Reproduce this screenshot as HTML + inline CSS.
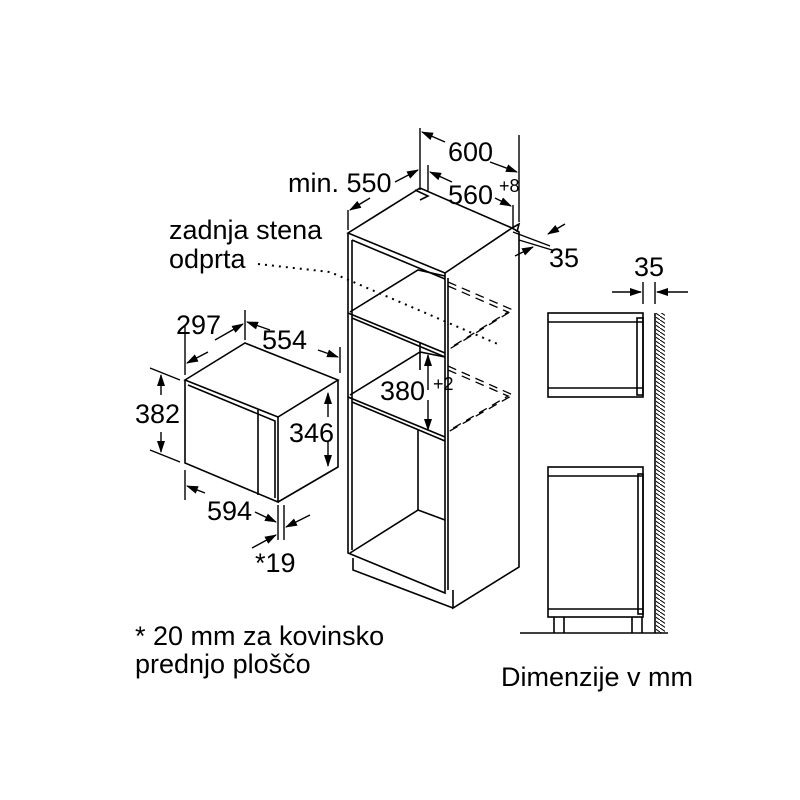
<!DOCTYPE html>
<html><head><style>body{margin:0;background:#fff}svg{display:block}text{font-family:"Liberation Sans",sans-serif;font-size:27px;fill:#000}</style></head>
<body>
<svg width="800" height="800" viewBox="0 0 800 800" xmlns="http://www.w3.org/2000/svg">
<defs>
<marker id="a" markerWidth="12" markerHeight="8" refX="11" refY="4" orient="auto" markerUnits="userSpaceOnUse"><path d="M0,0 L12,4 L0,8 z" fill="#000"/></marker>
<pattern id="h" width="6" height="4" patternUnits="userSpaceOnUse"><path d="M0,0 L6,4" stroke="#000" stroke-width="1"/></pattern>
</defs>
<g fill="none" stroke="#000" stroke-width="1.6">
<path d="M348,233 L420,188 L512,228 L445,273 Z"/>
<path d="M348,233 L348,553 L445,593 L445,273"/>
<path d="M352,240 L352,550 M448,278 L448,590"/>
<path d="M352,240 L445,279"/>
<path d="M512,228 L519,232 L519,567 L453,608 L453,590"/>
<path d="M353,558 L353,570 L453,608"/>
<path d="M348,313 L445,353 M352,318 L445,357"/>
<path d="M348,397 L445,437 M352,402 L445,441"/>
<path d="M350,312 L418,270 L445,276"/>
<path d="M420,343 L420,370 M350,395 L420,352 L445,357"/>
<path d="M418,430 L418,510 L350,553 M418,510 L445,520"/>
<path d="M415,190 L428,196 L420,200"/>
<path d="M512,228 L519,224 L517,232"/>
</g>
<g fill="none" stroke="#000" stroke-width="1.3" stroke-dasharray="9,6">
<path d="M448,282 L513,310 L448,350 M448,286 L508,312 L450,348"/>
<path d="M448,366 L513,395 L448,432 M448,370 L508,396 L450,430"/>
</g>
<path d="M258,264 L330,272 L500,345" fill="none" stroke="#000" stroke-width="2" stroke-dasharray="2,5"/>
<g fill="none" stroke="#000" stroke-width="1.4">
<path d="M420,128 L420,190 M519,135 L519,222 M428,165 L428,192 M513,205 L513,228"/>
<path d="M445,142 L422,132" marker-end="url(#a)"/><path d="M490,162 L517,172" marker-end="url(#a)"/>
<path d="M452,182 L430,172" marker-end="url(#a)"/><path d="M495,198 L511,206" marker-end="url(#a)"/>
<path d="M348,210 L348,230"/>
<path d="M395,182 L418,170" marker-end="url(#a)"/><path d="M370,198 L350,210" marker-end="url(#a)"/>
<path d="M513,232 L550,246 M519,240 L552,250"/>
<path d="M565,224 L548,234" marker-end="url(#a)"/><path d="M515,256 L533,247" marker-end="url(#a)"/>
<path d="M428,390 L428,355" marker-end="url(#a)"/><path d="M428,400 L428,430" marker-end="url(#a)"/>
</g>
<text x="448" y="161">600</text>
<text x="288" y="192">min. 550</text>
<text x="448" y="204">560</text><text x="499" y="192" style="font-size:18px">+8</text>
<text x="549" y="267">35</text>
<text x="380" y="400">380</text><text x="433" y="390" style="font-size:18px">+2</text>
<text x="169" y="239">zadnja stena</text>
<text x="169" y="268">odprta</text>
<g fill="none" stroke="#000" stroke-width="1.6">
<path d="M185,380 L245,343 L338,380 L278,417 Z"/>
<path d="M185,380 L185,463 L278,502 L278,417 M338,380 L338,467 L278,502"/>
<path d="M188,385 L275,421 L275,498"/>
<path d="M258,410 L258,495"/>
</g>
<g fill="none" stroke="#000" stroke-width="1.4">
<path d="M185,325 L185,375 M245,310 L245,340 M340,347 L340,373"/>
<path d="M215,340 L243,324" marker-end="url(#a)"/><path d="M208,352 L187,363" marker-end="url(#a)"/>
<path d="M270,330 L247,322" marker-end="url(#a)"/><path d="M318,350 L338,357" marker-end="url(#a)"/>
<path d="M150,368 L180,380 M150,450 L180,462"/>
<path d="M161,395 L161,375" marker-end="url(#a)"/><path d="M161,432 L161,452" marker-end="url(#a)"/>
<path d="M328,417 L328,393" marker-end="url(#a)"/><path d="M328,442 L328,466" marker-end="url(#a)"/>
<path d="M185,470 L185,500 M278,505 L278,540 M284,505 L284,540"/>
<path d="M205,493 L187,486" marker-end="url(#a)"/><path d="M255,512 L276,522" marker-end="url(#a)"/>
<path d="M310,515 L286,527" marker-end="url(#a)"/><path d="M252,548 L276,535" marker-end="url(#a)"/>
</g>
<text x="176" y="334">297</text>
<text x="262" y="349">554</text>
<text x="135" y="423">382</text>
<text x="289" y="442">346</text>
<text x="207" y="520">594</text>
<text x="255" y="572">*19</text>
<g fill="none" stroke="#000" stroke-width="1.6">
<rect x="548" y="313" width="95" height="84"/>
<path d="M548,322 L643,322 M548,388 L643,388"/>
<rect x="637" y="318" width="6" height="77"/>
<rect x="548" y="467" width="95" height="150"/>
<path d="M548,476 L643,476 M548,609 L643,609"/>
<rect x="638" y="474" width="5" height="140"/>
<path d="M554,617 L554,633 M564,617 L564,633 M632,617 L632,633 M642,617 L642,633"/>
<path d="M520,633 L668,633"/>
<path d="M655,313 L655,633"/>
</g>
<rect x="656" y="313" width="9" height="320" fill="url(#h)"/>
<g fill="none" stroke="#000" stroke-width="1.4">
<path d="M643,282 L643,304 M655,282 L655,304"/>
<path d="M612,292 L641,292" marker-end="url(#a)"/><path d="M688,292 L657,292" marker-end="url(#a)"/>
</g>
<text x="634" y="276">35</text>
<text x="135" y="645">* 20 mm za kovinsko</text>
<text x="135" y="673">prednjo ploščo</text>
<text x="501" y="686">Dimenzije v mm</text>
</svg>
</body></html>
